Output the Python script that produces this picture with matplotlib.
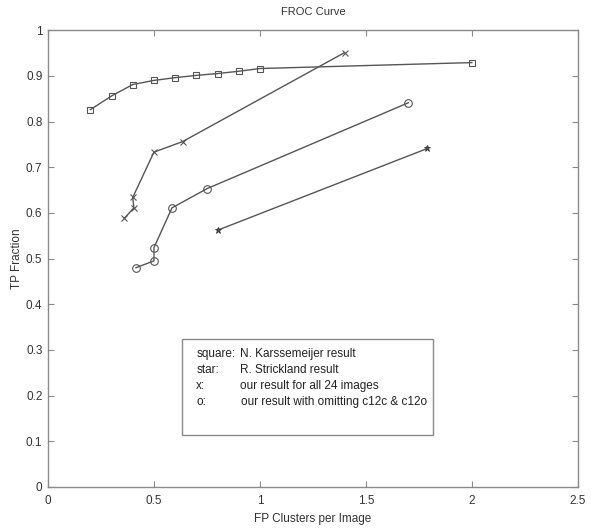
import matplotlib
matplotlib.use("Agg")
import matplotlib.pyplot as plt

# FROC curve data

# square: N. Karssemeijer
sq_fp = [0.2, 0.3, 0.4, 0.5, 0.6, 0.7, 0.8, 0.9, 1.0, 2.0]
sq_tp = [0.826, 0.856, 0.881, 0.890, 0.896, 0.901, 0.905, 0.910, 0.916, 0.929]

# star: R. Strickland
st_fp = [0.80, 1.79]
st_tp = [0.562, 0.741]

# x: our result for all 24 images
x_fp = [0.36, 0.405, 0.40, 0.50, 0.635, 1.40]
x_tp = [0.588, 0.611, 0.634, 0.733, 0.756, 0.951]

# o: our result with omitting c12c & c12o
o_fp = [0.415, 0.50, 0.50, 0.585, 0.75, 1.70]
o_tp = [0.480, 0.495, 0.524, 0.611, 0.653, 0.841]

legend_keys = ["square:", "star:", "x:", "o:"]
legend_text = ["N. Karssemeijer result", "R. Strickland result",
               "our result for all 24 images",
               "our result with omitting c12c & c12o"]

plt.rcParams['font.family'] = ['Liberation Sans', 'DejaVu Sans']
lc = '#555555'
ac = '#8a8a8a'

fig = plt.figure(figsize=(6, 5.29), dpi=100)
ax = fig.add_axes([0.08, 0.0794, 0.883, 0.8636])

ax.plot(sq_fp, sq_tp, color=lc, lw=1, marker='s', ms=4.5, mfc='none', mec=lc, mew=0.8)
ax.plot(x_fp, x_tp, color=lc, lw=1, marker='x', ms=5, mec=lc, mew=0.8)
ax.plot(o_fp, o_tp, color=lc, lw=1, marker='o', ms=5.5, mfc='none', mec=lc, mew=0.8)
ax.plot(st_fp, st_tp, color=lc, lw=1, marker='*', ms=5, mfc=lc, mec='#333333', mew=0.6)

ax.set_xlim(0, 2.5)
ax.set_ylim(0, 1)
ax.set_xticks([0, 0.5, 1, 1.5, 2, 2.5])
ax.set_xticklabels(['0', '0.5', '1', '1.5', '2', '2.5'])
ax.set_yticks([i / 10 for i in range(11)])
ax.set_yticklabels(['0'] + ['0.%d' % i for i in range(1, 10)] + ['1'])
ax.tick_params(direction='in', top=True, right=True, length=4, width=0.8,
               color=ac, labelsize=8.5, labelcolor='#333333')
ax.tick_params(axis='x', pad=6)
ax.tick_params(axis='y', pad=4)
for s in ax.spines.values():
    s.set_color(ac)
    s.set_linewidth(1)

ax.set_title('FROC Curve', fontsize=8, color='#333333', pad=11)
ax.set_xlabel('FP Clusters per Image', fontsize=8.5, color='#333333', labelpad=4)
ax.set_ylabel('TP Fraction', fontsize=8.5, color='#333333', labelpad=2)

# legend box drawn as plain text in a rectangle, like the original
box = plt.Rectangle((0.634, 0.113), 1.185, 0.21, fill=False, ec=ac, lw=1,
                    transform=ax.transData)
ax.add_patch(box)
for i in range(4):
    yy = 0.291 - i * 0.035
    ax.text(0.70, yy, legend_keys[i], fontsize=8.5, color='#222222', va='center')
    ax.text(0.905 if i < 2 else 0.90 + 0.005 * (i - 1), yy, legend_text[i],
            fontsize=8.5, color='#222222', va='center')

fig.savefig('out.png', dpi=100)
